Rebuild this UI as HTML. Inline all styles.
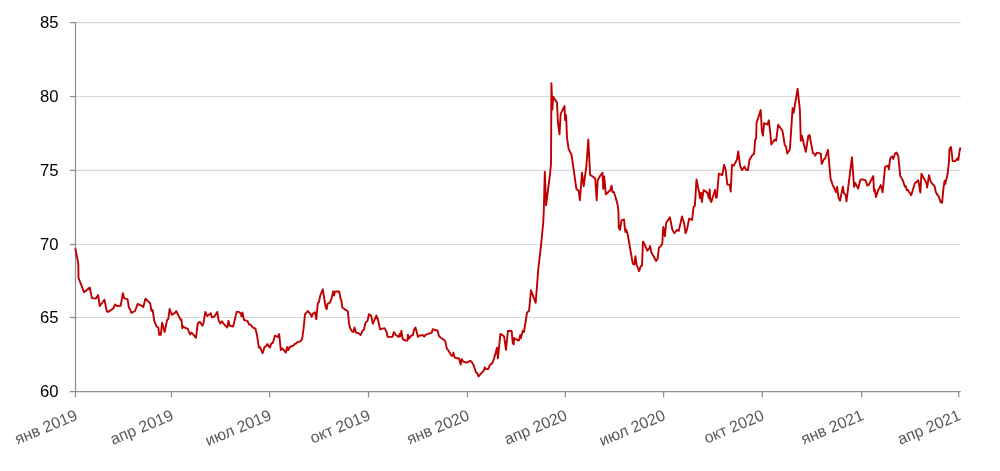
<!DOCTYPE html>
<html><head><meta charset="utf-8"><title>chart</title>
<style>html,body{margin:0;padding:0;background:#fff;}body{width:1000px;height:471px;overflow:hidden;}svg{display:block;}text{font-family:"Liberation Sans",sans-serif;}</style></head><body>
<svg width="1000" height="471" viewBox="0 0 1000 471">
<rect width="1000" height="471" fill="#ffffff"/>
<g stroke="#d9d9d9" stroke-width="1.1">
<line x1="76" y1="22.6" x2="960.8" y2="22.6"/>
<line x1="76" y1="96.5" x2="960.8" y2="96.5"/>
<line x1="76" y1="170.4" x2="960.8" y2="170.4"/>
<line x1="76" y1="244.5" x2="960.8" y2="244.5"/>
<line x1="76" y1="317.5" x2="960.8" y2="317.5"/>
</g>
<g stroke="#8e8e8e" stroke-width="1.25">
<line x1="75.5" y1="22.1" x2="75.5" y2="397.3"/>
<line x1="69.8" y1="391.7" x2="960.8" y2="391.7"/>
<line x1="69.8" y1="22.6" x2="75.5" y2="22.6"/>
<line x1="69.8" y1="96.5" x2="75.5" y2="96.5"/>
<line x1="69.8" y1="170.4" x2="75.5" y2="170.4"/>
<line x1="69.8" y1="244.5" x2="75.5" y2="244.5"/>
<line x1="69.8" y1="317.5" x2="75.5" y2="317.5"/>
<line x1="171.5" y1="391.7" x2="171.5" y2="397.3"/>
<line x1="269.6" y1="391.7" x2="269.6" y2="397.3"/>
<line x1="368.5" y1="391.7" x2="368.5" y2="397.3"/>
<line x1="467.5" y1="391.7" x2="467.5" y2="397.3"/>
<line x1="565.4" y1="391.7" x2="565.4" y2="397.3"/>
<line x1="663.6" y1="391.7" x2="663.6" y2="397.3"/>
<line x1="762.3" y1="391.7" x2="762.3" y2="397.3"/>
<line x1="861.7" y1="391.7" x2="861.7" y2="397.3"/>
<line x1="958.7" y1="391.7" x2="958.7" y2="397.3"/>
</g>
<g font-size="15.6" fill="#000000" text-anchor="end" style="filter:grayscale(1)">
<text transform="translate(58.6,28.0) scale(1.07,1)" x="0" y="0">85</text>
<text transform="translate(58.6,101.9) scale(1.07,1)" x="0" y="0">80</text>
<text transform="translate(58.6,175.8) scale(1.07,1)" x="0" y="0">75</text>
<text transform="translate(58.6,249.9) scale(1.07,1)" x="0" y="0">70</text>
<text transform="translate(58.6,322.9) scale(1.07,1)" x="0" y="0">65</text>
<text transform="translate(58.6,397.0) scale(1.07,1)" x="0" y="0">60</text>
</g>
<g font-size="16" fill="#595959" text-anchor="end" style="filter:grayscale(1)">
<text transform="translate(78.4,419.3) rotate(-22.7)" x="0" y="0">янв 2019</text>
<text transform="translate(174.4,419.3) rotate(-22.7)" x="0" y="0">апр 2019</text>
<text transform="translate(272.5,419.3) rotate(-22.7)" x="0" y="0">июл 2019</text>
<text transform="translate(371.4,419.3) rotate(-22.7)" x="0" y="0">окт 2019</text>
<text transform="translate(470.4,419.3) rotate(-22.7)" x="0" y="0">янв 2020</text>
<text transform="translate(568.3,419.3) rotate(-22.7)" x="0" y="0">апр 2020</text>
<text transform="translate(666.5,419.3) rotate(-22.7)" x="0" y="0">июл 2020</text>
<text transform="translate(765.2,419.3) rotate(-22.7)" x="0" y="0">окт 2020</text>
<text transform="translate(864.6,419.3) rotate(-22.7)" x="0" y="0">янв 2021</text>
<text transform="translate(961.6,419.3) rotate(-22.7)" x="0" y="0">апр 2021</text>
</g>
<polyline fill="none" stroke="#c00000" stroke-width="1.9" stroke-linejoin="round" stroke-linecap="butt" points="75.3,248.4 78.3,263.4 78.5,277.8 84.0,292.2 89.8,287.6 91.9,298.1 95.9,298.5 98.1,295.0 99.8,306.0 104.4,299.8 106.9,311.5 108.2,311.9 113.2,308.5 115.1,304.4 117.0,306.0 120.7,305.7 122.9,293.1 124.1,298.1 127.6,299.4 128.9,307.5 130.1,309.4 131.4,312.8 135.1,311.0 137.6,304.0 140.1,305.0 143.3,306.9 145.4,298.8 150.2,303.2 151.4,310.7 152.7,310.0 154.2,320.7 156.4,326.3 158.3,327.6 159.2,334.8 160.8,334.8 162.1,322.8 164.6,332.0 167.1,320.1 168.3,318.8 169.6,309.0 171.7,314.8 174.6,313.2 176.2,311.0 180.8,320.1 181.5,319.4 182.3,328.2 183.4,326.3 184.6,327.6 187.7,328.6 190.0,334.5 191.5,332.6 193.8,335.1 196.0,337.8 197.8,323.2 199.8,321.9 202.5,325.7 203.5,323.2 205.3,311.9 207.3,316.0 210.7,313.2 211.9,317.3 214.4,316.5 217.3,311.9 218.6,320.1 220.3,323.6 221.9,321.3 224.4,324.8 227.3,327.6 228.5,320.7 229.5,325.7 233.2,326.6 236.6,311.9 238.8,311.9 241.1,313.8 241.4,316.3 242.4,312.5 243.9,319.8 247.6,321.1 248.9,324.4 250.7,324.8 252.6,327.3 255.4,328.6 257.0,335.1 258.9,347.6 259.9,347.0 262.6,353.2 264.5,347.0 266.2,346.1 267.4,344.1 269.9,347.6 271.2,343.6 272.9,342.8 274.9,335.7 277.7,337.0 279.2,334.1 280.8,350.1 282.1,348.2 285.8,352.6 287.1,347.0 288.3,350.1 289.6,347.0 293.3,345.7 295.0,343.6 295.8,343.8 297.1,342.3 300.8,341.1 302.1,338.8 303.4,330.1 305.0,314.4 307.7,311.0 310.2,313.8 311.7,316.9 312.7,313.8 315.0,312.3 316.3,319.3 317.8,303.0 318.8,302.4 320.3,295.5 322.8,289.3 325.7,307.4 326.7,309.1 327.5,304.0 330.0,302.4 331.5,298.7 333.2,291.5 334.0,295.5 335.1,291.5 339.1,291.5 340.7,299.3 341.3,299.9 342.3,307.4 345.7,309.9 347.8,311.2 349.1,323.7 350.1,328.1 352.0,331.2 353.5,332.1 354.5,327.5 356.1,332.8 358.2,333.1 360.7,335.0 362.6,330.6 364.1,329.3 365.4,322.8 367.6,320.6 368.9,314.3 371.1,315.6 372.9,323.7 376.4,315.6 377.9,319.3 380.1,329.3 384.5,328.1 386.4,331.6 387.7,336.9 392.4,336.9 393.9,332.1 395.8,335.0 398.7,336.9 399.9,333.7 400.4,336.2 401.4,330.8 402.7,339.1 405.8,340.6 407.4,340.6 407.9,334.6 408.9,338.7 410.8,335.9 413.0,335.0 414.2,329.3 415.5,327.5 418.0,336.9 419.6,335.4 420.8,335.6 422.1,335.0 423.4,335.4 424.2,336.6 425.9,334.6 430.5,333.1 431.7,332.8 432.7,329.1 435.0,330.0 437.5,330.5 439.0,336.0 440.6,337.7 443.5,339.5 445.3,341.4 446.9,348.9 448.2,350.2 449.8,353.1 451.5,355.8 452.5,355.8 453.4,352.7 454.7,357.7 456.9,358.3 458.8,358.1 460.7,364.6 461.6,358.9 463.2,361.5 466.3,362.7 470.3,360.8 471.6,361.8 473.6,365.2 476.1,372.7 477.3,373.1 478.6,376.5 481.4,373.1 483.6,370.8 484.9,367.3 485.7,369.0 488.2,369.0 490.1,364.6 492.0,363.6 493.6,359.6 495.4,353.9 497.0,347.7 497.9,358.3 500.4,333.9 502.9,335.5 504.1,336.4 506.0,349.8 507.9,331.0 511.7,331.0 512.7,343.0 513.7,344.3 514.2,338.0 516.4,339.5 518.9,340.5 520.2,335.2 520.8,338.3 522.9,330.8 523.9,332.0 525.6,322.0 527.0,312.6 529.1,310.7 531.0,290.3 535.7,302.8 538.2,270.0 541.1,244.6 543.2,222.9 543.8,211.0 544.8,171.8 546.1,205.2 550.1,173.3 551.0,163.9 551.1,152.0 551.4,83.2 552.4,109.5 553.2,96.9 557.0,102.6 557.9,122.5 559.5,134.4 560.7,113.8 564.5,106.0 565.1,120.0 566.1,115.0 567.0,137.6 568.6,148.8 570.1,152.0 571.6,155.1 573.9,171.4 576.4,188.9 578.7,190.8 579.9,200.2 582.0,172.7 583.7,186.1 586.4,165.8 588.3,139.5 590.1,174.8 593.3,177.1 595.2,178.6 596.7,200.2 597.7,180.2 600.2,175.8 602.5,172.7 603.2,188.9 604.2,176.4 605.8,194.3 610.2,190.2 611.5,185.6 612.5,192.1 613.7,191.8 615.9,198.3 617.7,205.2 618.4,211.0 618.8,227.5 620.0,229.8 621.5,220.3 624.0,219.4 625.3,231.9 626.3,229.8 627.8,235.0 632.8,263.8 634.4,264.5 635.4,256.1 636.6,264.5 639.1,271.1 640.7,266.4 642.0,265.7 643.0,241.6 644.5,244.1 647.3,250.7 649.1,248.6 650.1,246.1 651.4,252.6 653.6,256.3 656.1,261.1 657.6,258.8 658.9,247.8 660.7,246.1 662.2,244.4 663.3,226.9 664.9,236.3 666.1,223.1 669.9,217.3 672.4,230.0 674.5,233.2 677.0,229.8 678.7,231.0 680.2,224.4 682.0,216.5 684.2,223.5 685.5,233.2 687.0,229.4 689.2,218.5 692.1,220.0 693.6,206.9 694.9,205.7 696.5,179.5 698.8,190.7 700.0,198.2 701.0,192.6 701.9,202.0 703.5,190.1 707.3,192.6 708.8,198.2 709.7,189.5 710.3,200.1 711.3,202.0 715.1,189.8 716.1,197.9 716.9,197.0 718.8,173.6 722.3,175.1 724.1,164.8 725.7,170.1 727.3,184.5 729.8,184.8 730.7,191.6 732.0,164.8 733.9,165.7 737.0,159.4 738.2,151.5 740.1,165.7 742.0,170.1 744.5,166.6 746.4,170.1 747.9,170.1 749.5,159.8 752.6,154.8 754.1,154.0 755.1,139.8 756.1,138.5 756.6,122.6 760.7,110.1 761.9,131.4 763.0,135.7 764.1,123.2 767.6,124.5 768.8,120.3 770.3,132.6 771.3,144.4 774.5,139.8 776.1,140.7 778.2,124.8 782.4,130.7 783.6,137.5 784.7,145.0 786.1,146.9 787.2,153.6 789.9,149.4 792.6,108.2 793.6,112.8 797.6,88.8 799.9,110.1 800.8,140.7 801.8,135.6 805.8,151.9 808.3,136.0 809.5,135.0 812.9,153.2 814.2,153.6 815.2,155.7 817.1,152.6 820.8,153.6 821.7,163.8 823.9,159.4 825.2,158.2 828.0,149.8 830.6,178.8 832.8,185.1 836.0,192.0 837.1,186.9 838.5,197.6 840.0,200.7 842.9,186.6 843.8,193.2 845.7,195.1 846.5,201.4 851.9,157.3 854.1,186.9 855.1,182.8 858.2,188.6 860.4,179.8 862.6,179.4 865.7,180.3 867.3,185.7 868.8,184.8 873.2,176.1 874.1,191.3 874.8,189.5 876.0,197.0 878.2,190.1 880.7,185.1 882.6,192.3 885.1,166.9 888.0,165.7 888.9,169.4 890.1,158.5 892.0,156.3 893.3,159.0 894.9,153.8 896.4,152.5 898.3,156.0 900.2,175.7 902.7,180.1 904.9,186.6 905.8,186.3 906.7,190.1 907.7,189.8 911.2,195.3 912.7,190.3 914.9,183.2 918.3,180.3 920.4,192.6 921.4,173.8 924.9,180.1 926.5,183.2 927.1,187.6 929.0,175.1 930.8,181.9 934.6,186.3 935.8,192.0 937.1,194.5 938.4,195.7 940.9,202.6 942.1,202.6 943.4,188.8 944.6,180.7 945.4,183.8 947.6,173.8 948.9,162.6 949.5,149.0 951.0,146.9 952.7,161.1 955.2,161.1 957.7,158.2 958.3,160.1 959.5,151.3 960.5,147.5"/>
</svg></body></html>
